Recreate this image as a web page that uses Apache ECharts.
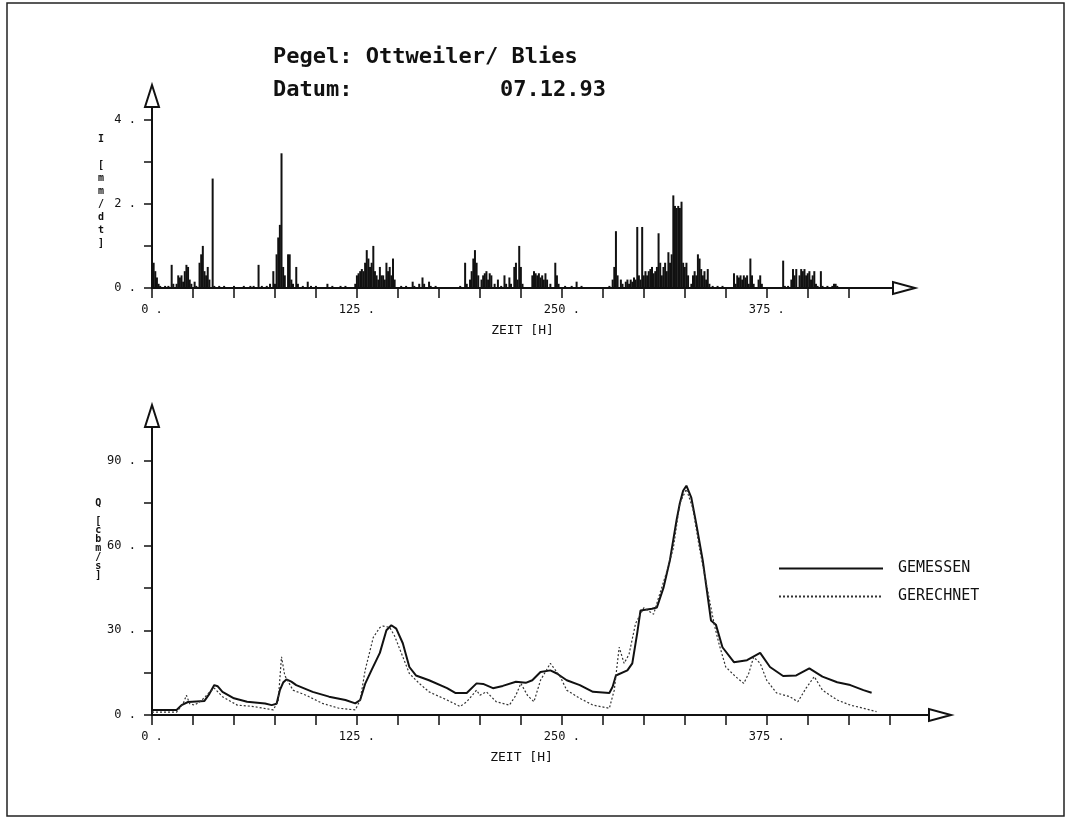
<!DOCTYPE html>
<html>
<head>
<meta charset="utf-8">
<script src="https://cdn.jsdelivr.net/npm/echarts@6/dist/echarts.min.js"></script>
<style>
html, body { margin: 0; background: #fff; }
#chart { width: 1071px; height: 821px; }
</style>
</head>
<body>
<div id="chart"></div>
<script>
// Niederschlag (Stundenwerte, nur Stunden mit Regen)
var rainHour = [0, 1, 2, 3, 4, 5, 8, 10, 12, 13, 15, 16, 17, 18, 19, 20, 21, 22, 23, 24, 26, 27, 29, 30, 31, 32, 33, 34, 35, 37, 38, 41, 44, 50, 56, 60, 62, 65, 67, 70, 72, 74, 75, 76, 77, 78, 79, 80, 81, 83, 84, 85, 86, 88, 89, 92, 95, 97, 100, 107, 110, 115, 118,
	124, 125, 126, 127, 128, 129, 130, 131, 132, 133, 134, 135, 136, 137, 138, 139, 140, 141, 142, 143, 144, 145, 146, 147, 148,
	152, 155, 159, 160, 163, 165, 166, 169, 170, 173,
	188, 191, 192, 194, 195, 196, 197, 198, 199, 201, 202, 203, 204, 205, 206, 207, 209, 211, 213, 215, 216, 218, 219, 221, 222, 223, 224, 225, 226,
	232, 233, 234, 235, 236, 237, 238, 239, 240, 241, 243, 246, 247, 248, 252, 256, 259, 262,
	279, 281, 282, 283, 284, 286, 287, 289, 290, 291, 292, 293, 294, 295, 296, 297, 298, 299, 300, 301, 302, 303, 304, 305, 306, 307, 308, 309, 310, 311, 312, 313, 314, 315, 316, 317, 318, 319, 320, 321, 322, 323, 324, 325, 326, 327, 329, 330, 331, 332, 333, 334, 335, 336, 337, 338, 339, 340, 342, 345, 348,
	355, 356, 357, 358, 359, 360, 361, 362, 363, 364, 365, 366, 367, 370, 371, 372,
	385, 386, 388, 390, 391, 392, 393, 395, 396, 397, 398, 399, 400, 401, 402, 403, 404, 405, 406, 408, 409, 412, 415, 416, 417, 418];
var rainValue = [0.8, 0.6, 0.4, 0.25, 0.1, 0.05, 0.05, 0.05, 0.55, 0.1, 0.1, 0.3, 0.25, 0.3, 0.15, 0.4, 0.55, 0.5, 0.2, 0.1, 0.15, 0.05, 0.6, 0.8, 1.0, 0.4, 0.3, 0.5, 0.2, 2.6, 0.05, 0.05, 0.05, 0.05, 0.05, 0.05, 0.05, 0.55, 0.05, 0.05, 0.1, 0.4, 0.1, 0.8, 1.2, 1.5, 3.2, 0.5, 0.3, 0.8, 0.8, 0.2, 0.1, 0.5, 0.1, 0.05, 0.15, 0.05, 0.05, 0.1, 0.05, 0.05, 0.05,
	0.1, 0.3, 0.35, 0.4, 0.45, 0.4, 0.6, 0.9, 0.7, 0.5, 0.6, 1.0, 0.4, 0.3, 0.2, 0.5, 0.3, 0.3, 0.2, 0.6, 0.4, 0.5, 0.3, 0.7, 0.2,
	0.05, 0.05, 0.15, 0.05, 0.1, 0.25, 0.1, 0.15, 0.05, 0.05,
	0.05, 0.6, 0.1, 0.2, 0.4, 0.7, 0.9, 0.6, 0.3, 0.2, 0.3, 0.35, 0.4, 0.2, 0.35, 0.3, 0.1, 0.2, 0.05, 0.3, 0.1, 0.25, 0.1, 0.5, 0.6, 0.2, 1.0, 0.5, 0.1,
	0.3, 0.4, 0.35, 0.3, 0.35, 0.25, 0.3, 0.2, 0.35, 0.2, 0.1, 0.6, 0.3, 0.1, 0.05, 0.05, 0.15, 0.05,
	0.05, 0.2, 0.5, 1.35, 0.3, 0.2, 0.1, 0.15, 0.2, 0.1, 0.2, 0.15, 0.25, 0.2, 1.45, 0.3, 0.2, 1.45, 0.3, 0.4, 0.3, 0.4, 0.45, 0.5, 0.35, 0.4, 0.5, 1.3, 0.6, 0.3, 0.5, 0.6, 0.4, 0.85, 0.6, 0.8, 2.2, 1.95, 1.9, 1.95, 1.9, 2.05, 0.6, 0.5, 0.6, 0.3, 0.1, 0.3, 0.4, 0.3, 0.8, 0.7, 0.45, 0.3, 0.4, 0.2, 0.45, 0.1, 0.05, 0.05, 0.05,
	0.35, 0.1, 0.3, 0.25, 0.3, 0.2, 0.3, 0.25, 0.3, 0.1, 0.7, 0.3, 0.1, 0.2, 0.3, 0.1,
	0.65, 0.05, 0.05, 0.2, 0.45, 0.3, 0.45, 0.3, 0.45, 0.4, 0.45, 0.3, 0.35, 0.4, 0.2, 0.3, 0.4, 0.1, 0.05, 0.4, 0.05, 0.05, 0.05, 0.1, 0.1, 0.05];

// Abfluss gemessen
var measHour = [0, 15, 18, 22, 32, 35, 38, 40, 43, 50, 58, 69, 73, 76, 78, 80, 82, 85, 88, 98, 108, 118, 124, 127, 130, 134, 139, 143, 146, 149, 153, 157, 161, 169, 180, 185, 192, 198, 202, 208, 214, 222, 228, 232, 237, 243, 247, 253, 261, 269, 279, 281, 283, 290, 293, 296, 298, 305, 308, 312, 316, 320, 322, 324, 326, 329, 332, 336, 341, 344, 348, 355, 363, 371, 377, 385, 393, 401, 409, 418, 426, 434, 439];
var measQ = [1.8, 1.8, 3.5, 4.6, 5, 7.5, 10.6, 10.2, 8.2, 5.9, 4.7, 4.1, 3.5, 4.0, 8.8, 11.5, 12.6, 11.8, 10.6, 8.2, 6.5, 5.3, 4.1, 5.3, 11, 16, 22, 30, 31.8, 30.6, 25.4, 17, 14, 12.3, 9.5, 7.8, 7.8, 11.2, 11, 9.5, 10.3, 11.8, 11.4, 12.3, 15.2, 15.8, 14.7, 12.3, 10.6, 8.2, 7.8, 10, 14, 15.8, 18.3, 29, 37, 37.6, 38.1, 45, 55, 69, 75, 79.4, 81.2, 77, 67.8, 54.7, 33.5, 32, 24, 18.7, 19.4, 22, 17, 13.8, 14, 16.5, 13.6, 11.6, 10.6, 8.8, 7.9];

// Abfluss gerechnet
var calcHour = [0, 15, 19, 21, 23, 26, 30, 35, 38, 43, 52, 62, 74, 77, 79, 81, 86, 94, 104, 114, 124, 127, 130, 135, 139, 141, 145, 148, 153, 157, 163, 169, 180, 188, 192, 198, 200, 204, 210, 218, 222, 225, 229, 233, 237, 243, 249, 253, 261, 269, 279, 282, 285, 288, 291, 295, 300, 306, 309, 314, 318, 322, 326, 330, 334, 343, 346, 350, 356, 361, 364, 367, 371, 375, 381, 389, 394, 399, 404, 409, 418, 426, 434, 442];
var calcQ = [1, 1, 4, 7, 4, 3.5, 5, 8, 9.5, 6.5, 3.5, 3, 1.8, 5, 20.6, 14, 8.8, 7, 4.1, 2.4, 1.8, 5.3, 15.8, 27.5, 31, 31.5, 31, 28, 20.6, 14.7, 11.2, 8.2, 5.3, 3, 4.7, 8.8, 7, 8.2, 4.7, 3.5, 7, 11.2, 7, 4.7, 12.3, 18.3, 13.6, 8.8, 5.9, 3.5, 2.4, 8.8, 24, 18.3, 21.5, 32.4, 38, 35.7, 41.5, 50.7, 59, 75, 80, 73, 59, 32, 25, 17, 13.6, 11.2, 14.7, 20.5, 18.3, 12.3, 7.8, 6.5, 4.7, 9.5, 13.6, 8.8, 5.3, 3.5, 2.4, 1.2];

// Achsen
var hourTicksTop = [0, 25, 50, 75, 100, 125, 150, 175, 200, 225, 250, 275, 300, 325, 350, 375, 400, 425];
var hourTicksBottom = [0, 25, 50, 75, 100, 125, 150, 175, 200, 225, 250, 275, 300, 325, 350, 375, 400, 425, 450];
var hourLabels = [0, 125, 250, 375];
var rainTicks = [0, 1, 2, 3, 4];
var rainLabels = [0, 2, 4];
var qTicks = [0, 15, 30, 45, 60, 75, 90];
var qLabels = [0, 30, 60, 90];

function pairs(xs, ys) {
	var out = [];
	for (var i = 0; i < xs.length; i++) {
		out.push([xs[i], ys[i]]);
	}
	return out;
}

var mono = 'DejaVu Sans Mono';
var ink = '#111';

function xAxisDef(grid, max, ticks, namePad) {
	return {
		type : 'value',
		gridIndex : grid,
		min : 0,
		max : max,
		axisLine : {
			show : true,
			lineStyle : { color : ink, width : 2 },
			symbol : ['none', 'emptyTriangle'],
			symbolSize : [12, 22],
			symbolOffset : [0, 11]
		},
		axisTick : {
			show : true,
			customValues : ticks,
			length : 10,
			lineStyle : { color : ink, width : 1.5 }
		},
		axisLabel : {
			customValues : hourLabels,
			formatter : function(v) { return v + ' .'; },
			fontFamily : mono,
			fontSize : 12,
			color : ink,
			margin : 16
		},
		splitLine : { show : false },
		name : 'ZEIT [H]',
		nameLocation : 'middle',
		nameGap : 36,
		nameTextStyle : { fontFamily : mono, fontSize : 13, color : ink, padding : namePad }
	};
}

// vertikal gestapelter Achsentitel; Leerzeilen am Ende heben ihn etwas an
function yAxisDef(grid, max, ticks, labels, name, lh) {
	return {
		type : 'value',
		gridIndex : grid,
		min : 0,
		max : max,
		axisLine : {
			show : true,
			lineStyle : { color : ink, width : 2 },
			symbol : ['none', 'emptyTriangle'],
			symbolSize : [14, 22],
			symbolOffset : [0, 11]
		},
		axisTick : {
			show : true,
			customValues : ticks,
			length : 8,
			lineStyle : { color : ink, width : 1.5 }
		},
		axisLabel : {
			customValues : labels,
			formatter : function(v) { return v + ' .'; },
			fontFamily : mono,
			fontSize : 12,
			color : ink,
			margin : 16
		},
		splitLine : { show : false },
		name : name,
		nameLocation : 'middle',
		nameRotate : 0,
		nameGap : 48,
		nameTextStyle : { fontFamily : mono, fontSize : 10, fontWeight : 'bold', lineHeight : lh, color : ink }
	};
}

var chart = echarts.init(document.getElementById('chart'));

var option = {
	animation : false,
	backgroundColor : '#fff',
	graphic : [{
		type : 'rect',
		shape : { x : 7, y : 3, width : 1057, height : 813 },
		style : { fill : 'none', stroke : '#222', lineWidth : 1.5 }
	}, {
		type : 'text',
		left : 273,
		top : 46,
		style : { text : 'Pegel: Ottweiler/ Blies', font : 'bold 22px "DejaVu Sans Mono"', fill : ink }
	}, {
		type : 'text',
		left : 273,
		top : 79,
		style : { text : 'Datum:', font : 'bold 22px "DejaVu Sans Mono"', fill : ink }
	}, {
		type : 'text',
		left : 500,
		top : 79,
		style : { text : '07.12.93', font : 'bold 22px "DejaVu Sans Mono"', fill : ink }
	}],
	grid : [{
		left : 152,
		top : 107,
		width : 741,
		height : 181
	}, {
		left : 152,
		top : 427,
		width : 777,
		height : 288
	}],
	legend : {
		data : ['GEMESSEN', 'GERECHNET'],
		orient : 'vertical',
		left : 773,
		top : 556,
		itemWidth : 104,
		itemHeight : 14,
		itemGap : 13,
		itemStyle : { color : 'transparent', borderWidth : 0 },
		textStyle : { fontFamily : mono, fontSize : 15, color : ink, padding : [0, 0, 0, 10] }
	},
	xAxis : [xAxisDef(0, 452, hourTicksTop, 0), xAxisDef(1, 474, hourTicksBottom, [0, 38, 0, 0])],
	yAxis : [
		yAxisDef(0, 4.3, rainTicks, rainLabels, 'I\n\n[\nm\nm\n/\nd\nt\n]\n ', 13),
		yAxisDef(1, 102, qTicks, qLabels, 'Q\n\n[\nc\nb\nm\n/\ns\n]\n \n \n \n \n \n \n ', 9)
	],
	series : [{
		name : 'Niederschlag',
		type : 'bar',
		xAxisIndex : 0,
		yAxisIndex : 0,
		barWidth : 2,
		itemStyle : { color : ink },
		data : pairs(rainHour, rainValue)
	}, {
		name : 'GEMESSEN',
		type : 'line',
		xAxisIndex : 1,
		yAxisIndex : 1,
		symbol : 'none',
		itemStyle : { color : ink },
		lineStyle : { color : ink, width : 2 },
		data : pairs(measHour, measQ)
	}, {
		name : 'GERECHNET',
		type : 'line',
		xAxisIndex : 1,
		yAxisIndex : 1,
		symbol : 'none',
		itemStyle : { color : '#333' },
		lineStyle : { color : '#333', width : 1.2, type : [2, 2] },
		data : pairs(calcHour, calcQ)
	}]
};

chart.setOption(option);
</script>
</body>
</html>
